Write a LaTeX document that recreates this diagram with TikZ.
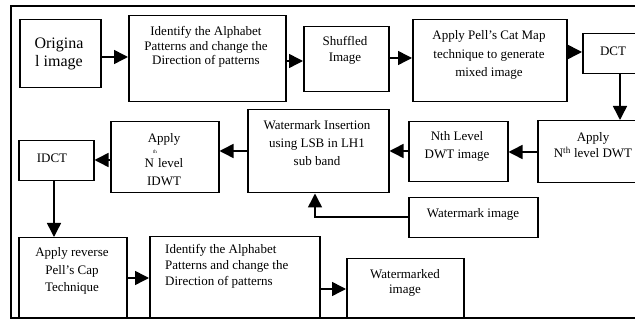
\documentclass[tikz,border=0pt]{standalone}
\usepackage{fontspec}
\setmainfont{Liberation Serif}
\usepackage{tikz}
\usetikzlibrary{arrows.meta}

\tikzset{
  box/.style={draw, line width=1.5pt, anchor=north west, inner sep=0pt},
  txt/.style={align=center, inner sep=0pt, font=\fontsize{13}{14.5}\selectfont},
  arr/.style={line width=1.5pt, -{Triangle[length=14pt,width=14pt]}},
  frame/.style={line width=1.6pt}
}

\begin{document}
\begin{tikzpicture}[x=1pt, y=-1pt] %%%{{{
	 \useasboundingbox (0,0) rectangle (635,320);
	 \clip (0,0) rectangle (635,320);
	 \draw[frame] (11,6) rectangle (680,318);
	 % boxes: name/left/top/width/height (pixels)
	 \foreach \n/\x/\y/\w/\h in {orig/19/19/81/68, idA/128/15/157/86, shuf/303/26/85/65,
	    cat/412/19/154/82, dct/582/33/62/40, dwtA/537/120/110/62, dwtI/408/121/99/60,
	    wins/247/109/141/83, idwt/110/121/108/71, idct/18/140/75/40, wimg/408/197/129/40,
	    rev/18/237/108/81, idB/149/236/170/82, wmkd/346/258/117/60}
	    \node[box, minimum width=\w pt, minimum height=\h pt] (\n) at (\x,\y) {};
	 % texts
	 \node (orig-t) at (59,54) [txt, font=\fontsize{16}{18}\selectfont] {Origina\\l image};
	 \node (idA-t) at (206,47) [txt] {Identify the Alphabet\\Patterns and change the\\Direction of patterns};
	 \node (shuf-t) at (345,50) [txt, font=\fontsize{13}{16}\selectfont] {Shuffled\\Image};
	 \node (cat-t) at (489,55) [txt, font=\fontsize{13}{18.5}\selectfont] {Apply Pell's Cat Map\\technique to generate\\mixed image};
	 \node (dct-t) at (613,51) [txt] {DCT};
	 \node (dwtA-t) at (593,145) [txt, font=\fontsize{13}{16}\selectfont] {Apply\\N\textsuperscript{th} level DWT};
	 \node (dwtI-t) at (457,146) [txt, font=\fontsize{13}{18}\selectfont] {Nth Level\\DWT image};
	 \node (wins-t) at (317,143) [txt, font=\fontsize{13}{18}\selectfont] {Watermark Insertion\\using LSB in LH1\\sub band};
	 \node (idwt-t) at (164,160) [txt] {Apply\\[-4pt]\hspace*{-18pt}{\fontsize{5}{5}\selectfont th}\\N\hspace{4pt}level\\[3.5pt]IDWT};
	 \node (idct-t) at (52,158) [txt] {IDCT};
	 \node (wimg-t) at (473,214) [txt] {Watermark image};
	 \node (rev-t) at (72,271) [txt, font=\fontsize{13}{17.5}\selectfont] {Apply reverse\\Pell's Cap\\Technique};
	 \node (idB-t) at (165,266) [txt, anchor=west, align=left, font=\fontsize{13}{16}\selectfont] {Identify the Alphabet\\Patterns and change the\\Direction of patterns};
	 \node (wmkd-t) at (405,283) [txt, font=\fontsize{13}{15}\selectfont] {Watermarked\\image};
	 % connectors
	 \draw[arr] (orig.east |- 0,57) -- (idA.west |- 0,57);
	 \draw[arr] (idA.east |- 0,61) -- (shuf.west |- 0,61);
	 \draw[arr] (shuf.east |- 0,58) -- (cat.west |- 0,58);
	 \draw[arr] (cat.east |- 0,52) -- (dct.west |- 0,52);
	 \draw[arr] (dct.south -| 620,0) -- (dwtA.north -| 620,0);
	 \draw[arr] (dwtA.west |- 0,152) -- (dwtI.east |- 0,152);
	 \draw[arr] (dwtI.west |- 0,151) -- (wins.east |- 0,151);
	 \draw[arr] (wins.west |- 0,151) -- (idwt.east |- 0,151);
	 \draw[arr] (idwt.west |- 0,160) -- (idct.east |- 0,160);
	 \draw[arr] (idct.south -| 54,0) -- (rev.north -| 54,0);
	 \draw[arr] (wimg.west |- 0,217) -| (wins.south -| 315,0);
	 \draw[arr] (rev.east |- 0,278) -- (idB.west |- 0,278);
	 \draw[arr] (idB.east |- 0,289) -- (wmkd.west |- 0,289);
      \end{tikzpicture}
\end{document}
